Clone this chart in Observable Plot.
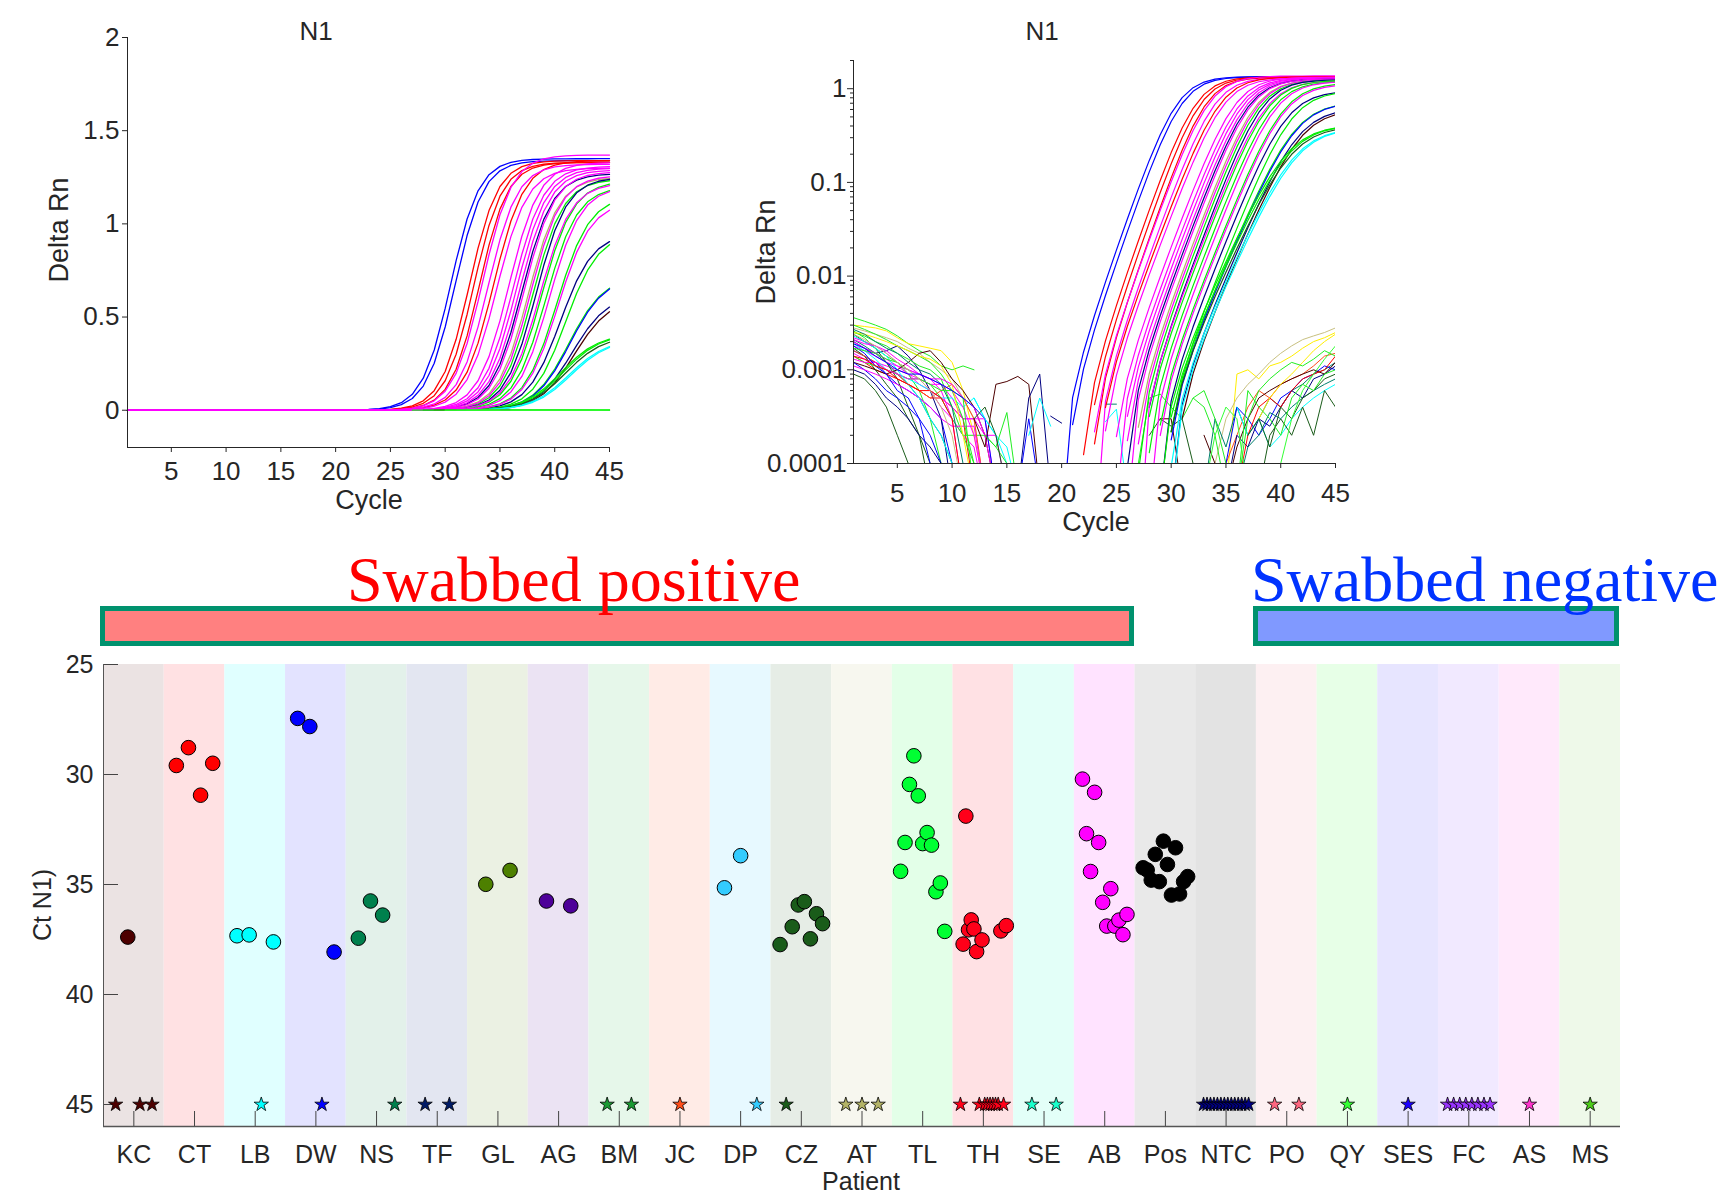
<!DOCTYPE html>
<html>
<head>
<meta charset="utf-8">
<script src="https://cdn.jsdelivr.net/npm/d3@7"></script>
<script src="https://cdn.jsdelivr.net/npm/@observablehq/plot@0.6"></script>
<style>
  body { margin: 0; background: #fff; }
  #root { position: relative; width: 1723px; height: 1197px; overflow: hidden; background: #fff;
          font-family: "Liberation Sans", Arial, Helvetica, sans-serif; color: #262626; }
  .lbl { position: absolute; transform: translate(-50%, -50%); white-space: nowrap; font-size: 27px; line-height: 1; }
  .rot { transform: translate(-50%, -50%) rotate(-90deg); }
  .banner { position: absolute; box-sizing: border-box; border: 5px solid #00926e; }
  .btext { position: absolute; font-family: "Liberation Serif", "Times New Roman", serif; font-size: 64px;
           line-height: 64px; white-space: nowrap; }
</style>
</head>
<body>
<div id="root"></div>
<script>
// ================= DATA =================
// Amplification plots
const cycleTicks = [5, 10, 15, 20, 25, 30, 35, 40, 45];
const linearTicks = [0, 0.5, 1, 1.5, 2];
const logTicks = [0.0001, 0.001, 0.01, 0.1, 1];
const logTickLabels = ["0.0001", "0.001", "0.01", "0.1", "1"];

// amplified wells: colour, mid-point cycle, plateau (Delta Rn), steepness
const curveColors = ["#0000ff","#0000ff","#ff0000","#ff0000","#ff0000","#ff00ff","#ff00ff","#ff0000","#ff00ff","#ff00ff",
  "#ff00ff","#ff00ff","#ff00ff","#000080","#ff00ff","#b3b366","#ff00ff","#00ee00","#000080","#ff00ff",
  "#00ee00","#00ee00","#ff00ff","#00ee00","#ff00ff","#000080","#00ee00","#00ee00","#0000ff","#000080",
  "#4d0000","#00ee00","#00ee00","#1a5c1a","#00ffff","#00ffff"];
const curveMids = [30.5,30.9,32.2,32.6,33.1,33.4,33.9,34.4,34.7,35.8,
  36.2,36.5,36.8,37.0,37.2,37.6,37.8,38.0,38.3,38.6,
  38.8,39.2,39.5,40.2,40.3,40.5,41.0,41.3,41.4,41.6,
  41.8,40.6,40.8,41.0,41.3,41.5];
const curvePlateaus = [1.35,1.34,1.34,1.33,1.33,1.37,1.32,1.34,1.30,1.33,
  1.31,1.30,1.29,1.27,1.28,1.25,1.26,1.24,1.25,1.22,
  1.23,1.20,1.20,1.15,1.12,0.95,0.95,0.72,0.72,0.62,
  0.60,0.41,0.41,0.40,0.38,0.38];
const curveSlopes = [1.3,1.3,1.3,1.3,1.3,1.35,1.35,1.4,1.4,1.4,
  1.4,1.4,1.4,1.4,1.4,1.4,1.4,1.4,1.4,1.45,
  1.45,1.45,1.45,1.5,1.5,1.5,1.5,1.6,1.6,1.6,
  1.6,1.7,1.7,1.7,1.7,1.7];
const curveBaseline = 0.0004;

// baseline noise (units of 1e-4 Delta Rn), early cycles, starting at cycle 1
const noiseUnit = 0.0001;
const earlyNoiseColors = ["#22ee22","#ffee00","#c8c080","#ff00ff","#ff00ff","#ff00ff","#0000ff","#000080","#1a5c1a","#22ee22",
  "#00806d","#ff0000","#00ffff","#4d0000","#1a5c1a","#22ee22","#0000ff","#ff00ff","#000080","#22ee22",
  "#ff4d1a","#1a5c1a","#ff00ff","#22ee22","#ff00ff","#00ffff","#ffee00","#0000ff",
  "#00806d","#ff00ff","#22ee22","#ff0000","#c8c080","#0000ff"];
const earlyNoise = [
  [36,33,30,27,23,19,16,14,11,10,11,10],
  [30,29,28,26,22,19,18,17,16,12,6,2,0.5],
  [28,26,24,22,20,17,15,12,10,8,5,3,0.5],
  [22,20,18,15,12,10,9,8,7,5,3,3,2,2,0.5],
  [18,16,14,12,11,10,9,8,6,3,0.5],
  [15,13,12,11,10,9,7,6,4,3,2,1.5,0.4],
  [16,14,12,9,7,6,5,4,3,1,0.4],
  [20,17,15,16,18,14,10,6,3,0.5],
  [24,20,17,12,8,4,2,0.5],
  [26,22,17,14,12,9,6,3,1,0.5],
  [21,18,15,12,9,7,5,3,2,1,0.5],
  [14,12,10,9,8,7,6,5,5,4,3,0.5],
  [19,16,13,10,9,8,7,6,5,5,4,5,3,2,1,0.5],
  [12,11,10,9,10,12,15,16,12,8,6,4,2,0.5],
  [17,14,10,7,5,3,2,1,0.5],
  [25,23,20,18,15,13,11,10,8,4,2,1,0.5],
  [12,10,8,6,5,4,3,2,1,0.5],
  [20,17,15,13,11,9,8,6,5,4,3,3,3,0.5],
  [10,9,7,5,4,3,2,1.5,1,0.5],
  [14,12,11,10,9,8,8,7,5,3,2,2,2,1.5,1,0.5],
  [16,14,12,10,9,7,6,5,6,7,5,3,0.5],
  [9,8,6,4,2,1,0.5],
  [11,10,9,8,7,6,5,4,3,2.5,2.5,2.5,0.5],
  [30,27,24,21,18,16,14,12,9,6,3,1,0.5],
  [13,12,12,10,9,8,8,7,7,6,4,2,0.5],
  [23,20,17,14,10,7,5,3,2,1,0.5],
  [25,24,22,20,18,16,14,13,11,7,2,0.5],
  [18,15,11,9,6,5,3,1,0.5],
  [27,24,20,17,15,12,10,9,7,4,1,0.5],
  [21,19,18,16,13,11,9,8,8,7,5,4,2,0.5],
  [17,16,15,13,12,10,8,7,6,6,5,0.5],
  [14,13,11,10,8,7,6,6,5,3,0.5],
  [24,21,18,15,12,10,8,6,4,2,0.5],
  [19,17,14,12,10,9,9,8,7,6,5,4,3,0.5]
];
// sporadic noise in the middle cycles
const midNoiseStarts = [12,16,19,16,12,17,13,24,24,12];
const midNoiseColors = ["#4d0000","#000080","#000080","#0000ff","#00ffff","#00ffff","#22ee22","#00ffff","#00806d","#1a5c1a"];
const midNoise = [
  [3,1.5,7,7.5,8.5,7,0.5],
  [0.5,5,9,0.5],
  [3.2,2.7],
  [0.5,3,0.5],
  [5,3,2,1.5,0.5],
  [2,5,2.5],
  [2,1.5,3.5,0.5],
  [2.8,3.8,0.5],
  [4.3,4.3],
  [3,4,2,0.5]
];
// non-amplified wells, late cycles
const lateNoiseStarts = [35,34,28,29,33,34,35,35,36,37,35,36,38,36,37,33,27,32,36,36,30];
const lateNoiseColors = ["#ffee00","#c8c080","#1a5c1a","#4d0000","#00806d","#ff4d1a","#0000ff","#000080","#00ffff","#1a5c1a",
  "#4d0000","#ff0000","#ffee00","#00806d","#1a5c1a","#4d0000","#22ee22","#22ee22","#22ee22","#22ee22","#33ff33"];
const lateNoise = [
  [0.5,9,10,8,11,12,14,17,20,22,25],
  [1,3,5,7,9,12,15,18,21,23,25,28],
  [2,3,2.5,3,1,0.5],
  [3,3,0.5],
  [0.5,3,1.5,4,2,3,5,4,6,7,9,10,12],
  [0.5,1,2,4,6,5,7,8,9,11,14,15],
  [1,4,3,2,3,5,6,8,9,11,10],
  [0.5,2,1.5,3,2.5,4,6,5,8,9,11],
  [4,2,3,1.5,2,3,4,5,6,7],
  [1,0.5,2,3,2,4,2,6,4],
  [0.5,1.5,3,5,6,7,8,9,10,9,12],
  [0.5,2,4,5,4,6,8,9,10,14],
  [3,5,7,9,12,16,20,24],
  [0.5,1.5,2,3.5,3,4,5,6,7,8],
  [2,3,1.5,4,3,5,6,8,9],
  [2,1,0.5],
  [1,5,5.5,4,3,5,4,2,0.5],
  [5,6,3,1,0.5,0.5,0.5,0.5,0.5,0.5,0.5,0.5,0.5,0.5],
  [0.5,6,4,3,2,5,7,6,9,10],
  [0.5,3,6,8,10,12,11,13,16,14],
  [0.5,0.5,0.5,0.5,2,4,3,0.5,0.5,0.5,1,3,6,9,13,18]
];

// Ct scatter
const patients = ["KC","CT","LB","DW","NS","TF","GL","AG","BM","JC","DP","CZ","AT","TL","TH","SE","AB","Pos","NTC","PO","QY","SES","FC","AS","MS"];
const undetermined = 45; // no amplification -> star at 45
const ctValues = [
  [45, 37.39, 45, 45],
  [29.59, 28.78, 30.94, 29.49],
  [37.33, 37.29, 45, 37.61],
  [27.45, 27.82, 45, 38.07],
  [37.44, 35.75, 36.39, 45],
  [45, 45],
  [34.99, 34.36],
  [35.75, 35.97],
  [45, 45],
  [45],
  [35.15, 33.69, 45],
  [37.73, 45, 36.92, 35.93, 35.78, 37.47, 36.33, 36.78],
  [45, 45, 45],
  [34.40, 33.09, 30.45, 29.15, 30.97, 33.14, 32.64, 33.21, 35.33, 34.93, 37.13],
  [45, 37.71, 31.89, 37.06, 36.61, 37.02, 38.05, 45, 37.52, 45, 45, 45, 45, 45, 45, 37.11, 45, 36.87],
  [45, 45],
  [30.21, 32.69, 34.41, 30.81, 33.09, 35.81, 36.89, 35.19, 36.89, 36.62, 37.28, 36.36],
  [34.24, 34.34, 34.80, 33.63, 34.87, 33.03, 34.09, 35.48, 33.33, 35.43, 34.87, 34.64],
  [45, 45, 45, 45, 45, 45, 45, 45, 45, 45, 45, 45, 45, 45],
  [45, 45],
  [45],
  [45],
  [45, 45, 45, 45, 45, 45, 45, 45],
  [45],
  [45]
];
const ctTicks = [25, 30, 35, 40, 45];
const swabbedPositive = ["KC", "AB"];
const swabbedNegative = ["PO", "MS"];

// ================= STYLES =================
const pointColors = ["#4d0000","#ff0000","#00ffff","#0000ff","#00804d","#001a66","#4d8000","#4d0099","#1a9933","#ff4d1a",
  "#33ccff","#1a5c1a","#b3b366","#00ff33","#ff0019","#1affcc","#ff00ff","#000000","#000080","#ff6680",
  "#33ff33","#1a00ff","#9933ff","#ff33cc","#4dcc1a"];
const bandColors = ["#ebe3e3","#ffe1e3","#e0ffff","#e3e3ff","#e3f1ea","#e3e6f1","#ebf1e3","#ebe3f3","#e6f7ea","#ffebe6",
  "#e7f9ff","#e6ede6","#f7f7ef","#e3ffe8","#ffe1e4","#e3fff8","#ffe3ff","#e9e9e9","#e3e3e3","#fdf0f2",
  "#e7ffe7","#e7e5ff","#f1e9ff","#ffe9fb","#eef9e9"];
const FONT = '"Liberation Sans", Arial, Helvetica, sans-serif';
const AXIS = "#262626";

// ================= BUILD =================
const root = document.getElementById("root");
function place(el, left, top) {
  el.style.position = "absolute"; el.style.left = left + "px"; el.style.top = top + "px"; root.appendChild(el);
}
function label(text, x, y, size, rotate, color) {
  const d = document.createElement("div");
  d.className = "lbl" + (rotate ? " rot" : "");
  d.textContent = text; d.style.left = x + "px"; d.style.top = y + "px";
  if (size) d.style.fontSize = size + "px";
  if (color) d.style.color = color;
  root.appendChild(d);
}

const cycles = d3.range(1, 46);
function amp(c, k) {
  return curvePlateaus[k] / (1 + Math.exp(-(c - curveMids[k]) / curveSlopes[k])) - curveBaseline;
}
const curveRows = curveColors.flatMap((col, k) => cycles.map(c => ({id: "c" + k, cycle: c, value: amp(c, k), color: col})));
// draw magenta last in the linear view
const magentaLast = curveRows.slice().sort((a, b) => (a.color === "#ff00ff") - (b.color === "#ff00ff"));
function noiseRows(prefix, starts, colors, series) {
  return series.flatMap((vals, k) => vals.map((v, j) => ({
    id: prefix + k, cycle: (Array.isArray(starts) ? starts[k] : starts) + j, value: v * noiseUnit, color: colors[k]})));
}
const earlyRows = noiseRows("e", 1, earlyNoiseColors, earlyNoise);
const midRows = noiseRows("m", midNoiseStarts, midNoiseColors, midNoise);
const lateRows = noiseRows("l", lateNoiseStarts, lateNoiseColors, lateNoise);

const xCycleDomain = [1, 45];
const linDomain = [-0.2, 2];
const logDomain = [0.0001, 2];

// ---- top-left: linear ----
const lin = Plot.plot({
  width: 640, height: 520, marginLeft: 127, marginRight: 31, marginTop: 37, marginBottom: 73,
  x: {domain: xCycleDomain}, y: {domain: linDomain},
  color: {type: "identity"},
  style: {fontFamily: FONT, fontSize: "26px", color: AXIS, background: "transparent", overflow: "visible"},
  marks: [
    Plot.line(earlyRows.concat(midRows), {x: "cycle", y: "value", z: "id", stroke: "color", strokeWidth: 1}),
    Plot.line(magentaLast, {x: "cycle", y: "value", z: "id", stroke: "color", strokeWidth: 1.3}),
    Plot.line(lateRows, {x: "cycle", y: "value", z: "id", stroke: "color", strokeWidth: 1.3}),
    Plot.ruleX([xCycleDomain[0]], {stroke: AXIS}),
    Plot.ruleY([linDomain[0]], {stroke: AXIS}),
    Plot.axisX(cycleTicks, {tickSize: 5, tickPadding: 9, label: null, stroke: AXIS}),
    Plot.axisY(linearTicks, {tickSize: 5, tickPadding: 3, label: null, stroke: AXIS, tickFormat: d => String(d)})
  ]
});
place(lin, 0, 0);

// ---- top-right: log ----
const minorTicks = d3.range(-4, 1).flatMap(e => d3.range(2, 10).map(m => m * Math.pow(10, e))).filter(v => v <= logDomain[1]);
const logRows = rows => rows.map(d => ({...d, value: d.value > 0 ? d.value : NaN}));
const lg = Plot.plot({
  width: 680, height: 540, marginLeft: 153, marginRight: 45, marginTop: 60, marginBottom: 77,
  x: {domain: xCycleDomain}, y: {type: "log", domain: logDomain},
  color: {type: "identity"},
  style: {fontFamily: FONT, fontSize: "26px", color: AXIS, background: "transparent", overflow: "visible"},
  marks: [
    Plot.line(logRows(earlyRows.concat(midRows, lateRows)), {x: "cycle", y: "value", z: "id", stroke: "color", strokeWidth: 1, clip: true}),
    Plot.line(logRows(curveRows), {x: "cycle", y: "value", z: "id", stroke: "color", strokeWidth: 1.2, clip: true}),
    Plot.ruleX([xCycleDomain[0]], {stroke: AXIS}),
    Plot.ruleY([logDomain[0]], {stroke: AXIS}),
    Plot.axisX(cycleTicks, {tickSize: 5, tickPadding: 15, label: null, stroke: AXIS}),
    Plot.axisY(minorTicks, {tickSize: 3, label: null, stroke: AXIS, tickFormat: () => ""}),
    Plot.axisY(logTicks, {tickSize: 6, tickPadding: 1, label: null, stroke: AXIS,
      tickFormat: d => logTickLabels[logTicks.indexOf(d)]})
  ]
});
place(lg, 700, 0);

// ---- bottom: Ct per patient ----
const nP = patients.length;
const ctDomain = [25, 46];
const dotRows = ctValues.flatMap((vals, p) => vals.map((v, i) => ({
  patient: patients[p], pos: p + 0.5 + (i - (vals.length - 1) / 2) * 0.8 / vals.length, ct: v, color: pointColors[p]})));
const circles = dotRows.filter(d => d.ct < undetermined);
const stars = dotRows.filter(d => d.ct >= undetermined);
const bands = patients.map((name, i) => ({name, i, fill: bandColors[i]}));
const tickPos = patients.map((_, i) => i + 0.5);

const bottom = Plot.plot({
  width: 1723, height: 547, marginLeft: 103, marginRight: 103, marginTop: 14, marginBottom: 71,
  x: {domain: [0, nP]}, y: {domain: ctDomain, reverse: true},
  color: {type: "identity"},
  style: {fontFamily: FONT, fontSize: "25px", color: AXIS, background: "transparent", overflow: "visible"},
  marks: [
    Plot.rect(bands, {x1: "i", x2: d => d.i + 1, fill: "fill"}),
    Plot.axisX(tickPos, {tickSize: -15, label: null, stroke: "#444", tickFormat: () => ""}),
    Plot.axisY(ctTicks, {tickSize: -15, label: null, stroke: "#444", tickFormat: () => ""}),
    Plot.ruleX([0], {stroke: "#555"}),
    Plot.ruleY([ctDomain[1]], {stroke: "#555", strokeWidth: 1.5}),
    Plot.dot(circles, {x: "pos", y: "ct", r: 7.3, fill: "color", stroke: "#000", strokeWidth: 1}),
    Plot.dot(stars, {x: "pos", y: "ct", r: 4.5, symbol: "star", fill: "color", stroke: "#000", strokeWidth: 0.8}),
    Plot.axisX(tickPos, {tickSize: 0, tickPadding: 19, label: null, tickFormat: d => patients[Math.floor(d)]}),
    Plot.axisY(ctTicks, {tickSize: 0, tickPadding: 10, label: null})
  ]
});
place(bottom, 0, 650);

// ---- text labels ----
label("N1", 316, 31, 26);
label("N1", 1042, 31, 26);
label("Delta Rn", 59, 230, 27, true);
label("Delta Rn", 766, 252, 27, true);
label("Cycle", 369, 500, 27);
label("Cycle", 1096, 522, 27);
label("Ct N1)", 42, 905, 25, true);
label("Patient", 861, 1181, 25);

// ---- swab banners aligned to patient bands ----
const xs = bottom.scale("x");
function banner(range, fill, text, textColor, textLeft) {
  const i0 = patients.indexOf(range[0]), i1 = patients.indexOf(range[1]) + 1;
  const left = xs.apply(i0) - 3, right = xs.apply(i1) - 1;
  const b = document.createElement("div");
  b.className = "banner";
  b.style.left = left + "px"; b.style.top = "606px";
  b.style.width = (right - left) + "px"; b.style.height = "40px"; b.style.background = fill;
  root.appendChild(b);
  const t = document.createElement("div");
  t.className = "btext"; t.textContent = text; t.style.color = textColor;
  t.style.left = textLeft + "px"; t.style.top = "548px";
  root.appendChild(t);
}
banner(swabbedPositive, "#ff8080", "Swabbed positive", "#ff0000", 347);
banner(swabbedNegative, "#8099ff", "Swabbed negative", "#0033ff", 1251);
</script>
</body>
</html>
